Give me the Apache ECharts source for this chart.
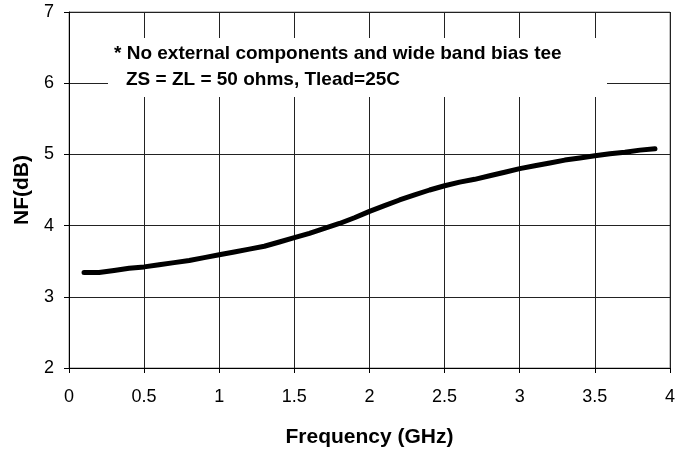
<!DOCTYPE html>
<html>
<head>
<meta charset="utf-8">
<script src="https://cdn.jsdelivr.net/npm/echarts@6/dist/echarts.min.js"></script>
<style>html,body{margin:0;padding:0;background:#fff}#c{width:678px;height:453px}</style>
</head>
<body>
<div id="c"></div>
<script>
const freqGHz = [0.1,0.2,0.3,0.4,0.5,0.6,0.7,0.8,0.9,1.0,1.1,1.2,1.3,1.4,1.5,1.6,1.7,1.8,1.9,2.0,2.1,2.2,2.3,2.4,2.5,2.6,2.7,2.8,2.9,3.0,3.1,3.2,3.3,3.4,3.5,3.6,3.7,3.8,3.9];
const nfDB = [3.34,3.34,3.37,3.40,3.42,3.45,3.48,3.51,3.55,3.59,3.63,3.67,3.71,3.77,3.83,3.89,3.96,4.03,4.11,4.20,4.28,4.36,4.43,4.50,4.56,4.61,4.65,4.70,4.75,4.80,4.84,4.88,4.92,4.95,4.98,5.01,5.03,5.06,5.08];
const xTicks = [0,0.5,1,1.5,2,2.5,3,3.5,4];
const yTicks = [2,3,4,5,6,7];
const noteLines = ['* No external components and wide band bias tee','ZS = ZL = 50 ohms, Tlead=25C'];
const xTitle = 'Frequency (GHz)';
const yTitle = 'NF(dB)';

const chart = echarts.init(document.getElementById('c'), null, {renderer:'canvas'});
const font = 'Liberation Sans, Arial, sans-serif';
chart.setOption({
  animation:false,
  backgroundColor:'#fff',
  grid:{left:69, right:5, top:12, bottom:84, show:true, borderColor:'#888', borderWidth:1},
  xAxis:{
    type:'value', min:xTicks[0], max:xTicks[xTicks.length-1], interval:0.5,
    name:xTitle, nameLocation:'middle', nameGap:59,
    nameTextStyle:{fontFamily:font, fontWeight:'bold', fontSize:21, color:'#000'},
    axisLine:{show:true, onZero:false, lineStyle:{color:'#000', width:1}},
    axisTick:{show:true, length:5, lineStyle:{color:'#000'}},
    axisLabel:{fontFamily:font, fontSize:18, color:'#000', margin:20},
    splitLine:{show:true, lineStyle:{color:'#222', width:1}}
  },
  yAxis:{
    type:'value', min:yTicks[0], max:yTicks[yTicks.length-1], interval:1,
    name:yTitle, nameLocation:'middle', nameGap:36, nameRotate:90,
    nameTextStyle:{fontFamily:font, fontWeight:'bold', fontSize:21, color:'#000'},
    axisLine:{show:true, onZero:false, lineStyle:{color:'#000', width:1}},
    axisTick:{show:true, length:5, lineStyle:{color:'#000'}},
    axisLabel:{fontFamily:font, fontSize:18, color:'#000', margin:15},
    splitLine:{show:true, lineStyle:{color:'#222', width:1}}
  },
  series:[{
    type:'line', data:freqGHz.map((f,i)=>[f,nfDB[i]]),
    showSymbol:false, symbol:'none', smooth:false,
    lineStyle:{color:'#000', width:5, cap:'round', join:'round'}
  }],
  graphic:[
    {type:'rect', z:100, shape:{x:108, y:38, width:499, height:59}, style:{fill:'#fff'}},
    {type:'text', z:101, x:114, y:54, style:{text:noteLines[0], font:'bold 19px Liberation Sans, Arial, sans-serif', fill:'#000', verticalAlign:'middle'}},
    {type:'text', z:101, x:126, y:80, style:{text:noteLines[1], font:'bold 19px Liberation Sans, Arial, sans-serif', fill:'#000', verticalAlign:'middle'}}
  ]
});
</script>
</body>
</html>
